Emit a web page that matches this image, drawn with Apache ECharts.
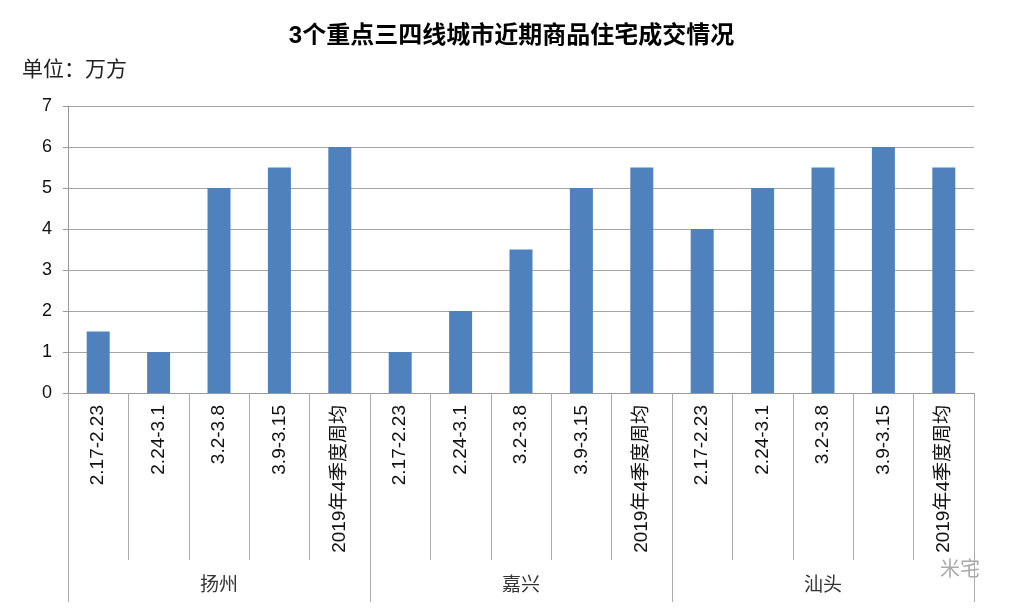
<!DOCTYPE html>
<html><head><meta charset="utf-8">
<script src="https://cdn.jsdelivr.net/npm/echarts@6/dist/echarts.min.js"></script>
<style>html,body{margin:0;padding:0;background:#fff}#c{width:1023px;height:615px}</style>
</head><body><div id="c"></div>
<script>
const periods = ['2.17-2.23','2.24-3.1','3.2-3.8','3.9-3.15','2019年4季度周均'];
const cities = ['扬州','嘉兴','汕头'];
const yangzhou = [1.5, 1, 5, 5.5, 6];
const jiaxing = [1, 2, 3.5, 5, 5.5];
const shantou = [4, 5, 5.5, 6, 5.5];
const yTicks = [0, 1, 2, 3, 4, 5, 6, 7];

const categories = [];
const values = [];
[yangzhou, jiaxing, shantou].forEach(function (arr) {
  periods.forEach(function (p, i) { categories.push(p); values.push(arr[i]); });
});

const font = '"Liberation Sans", "Noto Sans CJK SC", sans-serif';
const chart = echarts.init(document.getElementById('c'));
chart.setOption({
  animation: false,
  textStyle: { fontFamily: font },
  title: {
    text: '3个重点三四线城市近期商品住宅成交情况',
    left: 'center', top: 19,
    textStyle: { fontSize: 24, fontWeight: 'bold', color: '#000', fontFamily: font }
  },
  graphic: [
    { type: 'text', left: 22, top: 60, style: { text: '单位：万方', font: '21px ' + font, fill: '#222' } },
    { type: 'text', left: 940, top: 560, style: { text: '米宅', font: '20px ' + font, fill: '#aaa' } }
  ],
  grid: { left: 68, right: 49, top: 106, bottom: 222 },
  xAxis: [
    {
      type: 'category', data: categories, position: 'bottom',
      axisLine: { show: true, lineStyle: { color: '#999' } },
      axisTick: { show: true, interval: 0, length: 167, lineStyle: { color: '#aaa' } },
      axisLabel: { interval: 0, rotate: 90, margin: 12, fontSize: 19, color: '#111', fontFamily: font }
    },
    {
      type: 'category', data: cities, position: 'bottom',
      axisLine: { show: false },
      axisTick: { show: true, interval: 0, length: 209, lineStyle: { color: '#aaa' } },
      axisLabel: { interval: 0, margin: 183, fontSize: 19, color: '#333', fontFamily: font }
    }
  ],
  yAxis: {
    type: 'value', min: yTicks[0], max: yTicks[yTicks.length - 1], interval: 1,
    axisLine: { show: true, lineStyle: { color: '#999' } },
    axisTick: { show: true, length: 5, lineStyle: { color: '#999' } },
    axisLabel: { fontSize: 18, color: '#111', margin: 16, fontFamily: font },
    splitLine: { lineStyle: { color: '#a6a6a6' } }
  },
  series: [{
    type: 'bar', xAxisIndex: 0, data: values,
    barWidth: 23,
    itemStyle: { color: '#4f81bd' }
  }]
});
</script></body></html>
